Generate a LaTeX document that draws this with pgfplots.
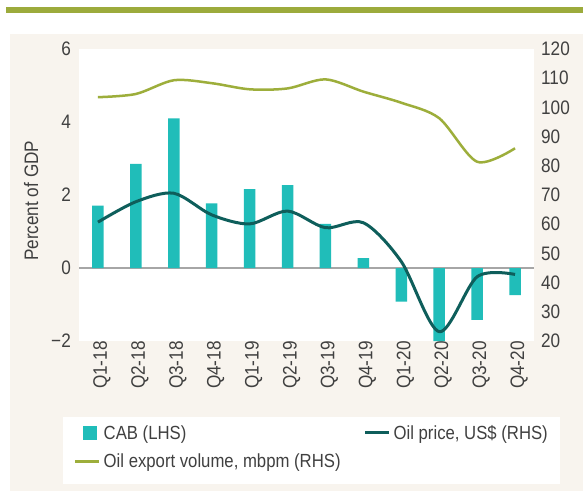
\documentclass[border=0pt]{standalone}
\usepackage{pgfplots}
\usepackage{pgfplotstable}
\pgfplotsset{compat=1.18}
\usepackage{fontspec}
\setmainfont{Liberation Sans}[FakeStretch=0.88]
\definecolor{topgreen}{HTML}{9CAB3C}
\definecolor{beige}{HTML}{F8F4EE}
\definecolor{cab}{HTML}{20BDB9}
\definecolor{oilp}{HTML}{0E5E5B}
\definecolor{oilv}{HTML}{9DAE3B}
\definecolor{txt}{HTML}{404040}
\definecolor{zero}{HTML}{A6A6A6}

\pgfplotstableread{
x cab price vol
0 1.71 60.7 103.5
1 2.85 67.7 104.6
2 4.10 70.6 109.3
3 1.77 63.2 108.3
4 2.16 60.1 106.2
5 2.27 64.5 106.5
6 1.21 58.8 109.6
7 0.27 60.5 105.4
8 -0.92 47.2 101.6
9 -2.00 23.2 96.3
10 -1.42 42.0 81.4
11 -0.74 42.8 86.0
}\data

\begin{document}
\begin{tikzpicture}
\useasboundingbox (0,0) rectangle (583pt,-491pt);
\fill[topgreen] (6pt,-6.5pt) rectangle (583pt,-13pt);
\fill[beige] (10pt,-34pt) rectangle (583pt,-491pt);
\fill[white] (63pt,-417pt) rectangle (560pt,-484pt);

\pgfplotsset{base/.style={
  at={(79pt,-341pt)}, anchor=south west, scale only axis,
  width=455pt, height=292pt, xmin=-0.5, xmax=11.5,
  axis line style={draw=none}, major tick length=0pt,
  tick label style={font=\fontsize{19.5}{22}\selectfont, text=txt},
  /pgf/number format/assume math mode=true}}

\begin{axis}[base,
  ymin=-2, ymax=6, ytick={-2,0,2,4,6}, yticklabels={−2,0,2,4,6},
  yticklabel style={inner xsep=0pt, xshift=-8pt},
  xtick={0,...,11},
  xticklabels={Q1-18,Q2-18,Q3-18,Q4-18,Q1-19,Q2-19,Q3-19,Q4-19,Q1-20,Q2-20,Q3-20,Q4-20},
  xticklabel style={rotate=90, anchor=east, inner sep=0pt, yshift=-4pt},
  axis background/.style={fill=white},
  ylabel={Percent of GDP},
  ylabel style={at={(axis description cs:-0.105,0.48)}, anchor=center, font=\fontsize{19.5}{22}\selectfont, text=txt},
  extra y ticks={0}, extra y tick labels={},
  extra y tick style={grid=major, grid style={zero, line width=1.5pt}},
]
\addplot[ybar, bar width=11.5pt, fill=cab, draw=none] table[x=x,y=cab]{\data};
\end{axis}

\begin{axis}[base,
  ymin=20, ymax=120, ytick={20,30,...,120},
  axis y line*=right, axis x line=none,
  yticklabel style={anchor=west, inner xsep=0pt, xshift=7pt},
  legend columns=2,
  legend cell align=left,
  legend style={at={(axis description cs:-0.011,-0.284)}, anchor=north west,
    draw=none, fill=none, inner sep=0pt, row sep=11pt, column sep=1pt,
    font=\fontsize{19}{22}\selectfont, text=txt,
    nodes={inner xsep=2pt, inner ysep=1pt},
    /tikz/every even column/.append style={column sep=21pt}},
  legend image code/.code={\draw[#1] (0pt,0pt) -- (24pt,0pt);},
]
\addlegendimage{legend image code/.code={\fill[cab] (8pt,-6.7pt) rectangle (21pt,6.7pt);}}
\addlegendentry{CAB (LHS)}
\addplot[oilp, line width=3pt, smooth] table[x=x,y=price]{\data};
\addlegendentry{Oil price, US\$ (RHS)}
\addplot[oilv, line width=2.5pt, smooth] table[x=x,y=vol]{\data};
\addlegendentry{Oil export volume, mbpm (RHS)}
\end{axis}
\end{tikzpicture}
\end{document}
